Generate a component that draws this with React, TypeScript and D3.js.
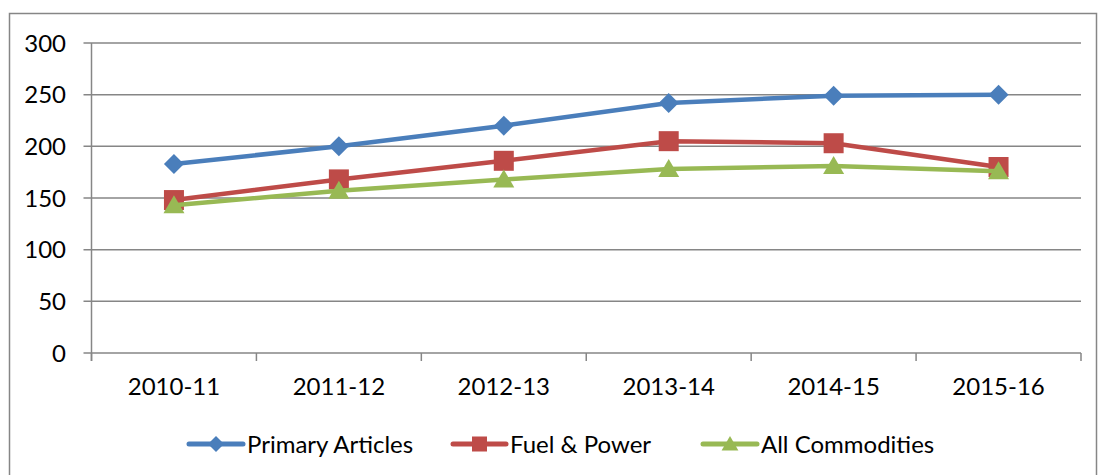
import React from 'react';
import { scaleBand, scaleLinear, line } from 'd3';

const years = ['2010-11', '2011-12', '2012-13', '2013-14', '2014-15', '2015-16'];
const primaryArticles = [183, 200, 220, 242, 249, 250];
const fuelPower = [148, 168, 186, 205, 203, 180];
const allCommodities = [143, 157, 168, 178, 181, 176];
const yTicks = [0, 50, 100, 150, 200, 250, 300];

const series = [
  { name: 'Primary Articles', values: primaryArticles, color: '#4A7EBB', marker: 'diamond' },
  { name: 'Fuel & Power', values: fuelPower, color: '#BE4B48', marker: 'square' },
  { name: 'All Commodities', values: allCommodities, color: '#98B954', marker: 'triangle' },
];

const W = 1098;
const H = 475;
const plot = { left: 91.5, right: 1081, top: 43, bottom: 353 };
const axisColor = '#868686';
const font = 'Lato, "Open Sans", sans-serif';

const Marker = ({ type, x, y, s, color }: { type: string; x: number; y: number; s: number; color: string }) => {
  if (type === 'diamond') {
    return <path d={`M${x},${y - s}L${x + s},${y}L${x},${y + s}L${x - s},${y}Z`} fill={color} />;
  }
  if (type === 'square') {
    return <rect x={x - s} y={y - s} width={s * 2} height={s * 2} fill={color} />;
  }
  return (
    <path
      d={`M${x},${y - s}L${x + s * 1.05},${y + s * 0.8}L${x - s * 1.05},${y + s * 0.8}Z`}
      fill={color}
    />
  );
};

const App: React.FC = () => {
  const x = scaleBand<string>().domain(years).range([plot.left, plot.right]);
  const y = scaleLinear().domain([0, 300]).range([plot.bottom, plot.top]);
  const cx = (d: string) => (x(d) as number) + x.bandwidth() / 2;

  const path = line<number>()
    .x((_, i) => cx(years[i]))
    .y((v) => y(v));

  const boundaries = years.map((d) => x(d) as number).concat([plot.right]);

  const legend = [
    { x0: 189, x1: 243 },
    { x0: 453, x1: 506 },
    { x0: 703, x1: 757 },
  ];
  const legendY = 444;

  return (
    <svg
      width={W}
      height={H}
      style={{ position: 'absolute', left: 0, top: 0, background: '#fff' }}
    >
      <rect x={9.5} y={13.5} width={1087} height={500} fill="#fff" stroke={axisColor} strokeWidth={1.5} />

      {yTicks.map((t) => (
        <g key={t}>
          <line x1={plot.left - 8} x2={plot.right} y1={y(t)} y2={y(t)} stroke={axisColor} strokeWidth={1.5} />
          <text
            x={66}
            y={y(t)}
            dy="0.36em"
            textAnchor="end"
            fontFamily={font}
            fontSize={24}
            fill="#000"
          >
            {t}
          </text>
        </g>
      ))}

      <line x1={plot.left} x2={plot.left} y1={plot.top} y2={plot.bottom + 8} stroke={axisColor} strokeWidth={1.5} />
      {boundaries.map((b, i) => (
        <line key={i} x1={b} x2={b} y1={plot.bottom} y2={plot.bottom + 8} stroke={axisColor} strokeWidth={1.5} />
      ))}

      {years.map((d) => (
        <text key={d} x={cx(d)} y={395} textAnchor="middle" fontFamily={font} fontSize={24} fill="#000">
          {d}
        </text>
      ))}

      {series.map((s) => (
        <g key={s.name}>
          <path d={path(s.values) || ''} fill="none" stroke={s.color} strokeWidth={4.5} strokeLinejoin="round" />
          {s.values.map((v, i) => (
            <Marker key={i} type={s.marker} x={cx(years[i])} y={y(v)} s={10} color={s.color} />
          ))}
        </g>
      ))}

      {series.map((s, i) => (
        <g key={s.name}>
          <line
            x1={legend[i].x0}
            x2={legend[i].x1}
            y1={legendY}
            y2={legendY}
            stroke={s.color}
            strokeWidth={5}
            strokeLinecap="round"
          />
          <Marker
            type={s.marker}
            x={(legend[i].x0 + legend[i].x1) / 2}
            y={legendY}
            s={s.marker === 'square' ? 7.5 : 8}
            color={s.color}
          />
          <text x={legend[i].x1 + 4} y={legendY} dy="0.36em" fontFamily={font} fontSize={24} fill="#000">
            {s.name}
          </text>
        </g>
      ))}
    </svg>
  );
};

export default App;
